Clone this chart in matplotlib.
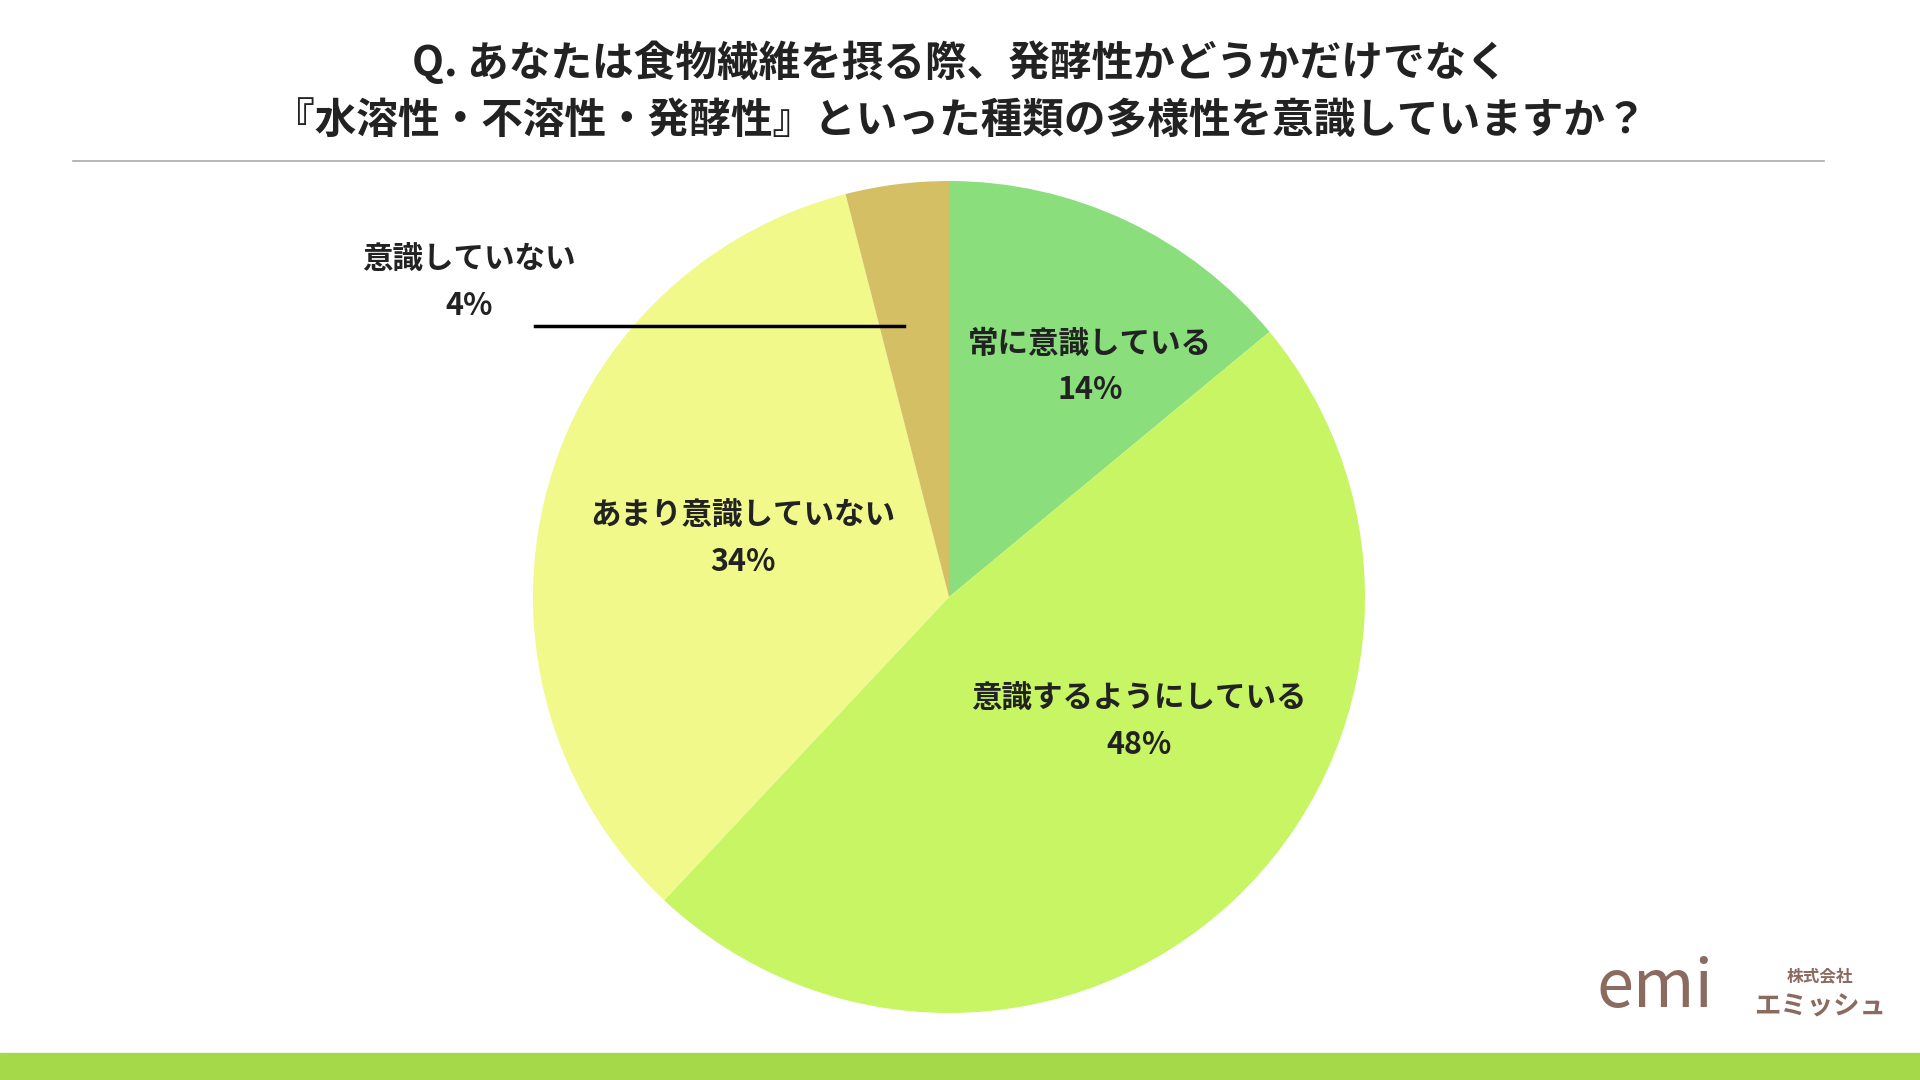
import matplotlib
matplotlib.use("Agg")
import matplotlib.pyplot as plt

plt.rcParams['font.family'] = ['Noto Sans CJK JP', 'DejaVu Sans']

title = "Q. あなたは食物繊維を摂る際、発酵性かどうかだけでなく\n『水溶性・不溶性・発酵性』といった種類の多様性を意識していますか？"
categories = ["常に意識している", "意識するようにしている", "あまり意識していない", "意識していない"]
values = [14, 48, 34, 4]
colors = ["#8ade7c", "#c8f564", "#f0f98a", "#d4bf65"]
# label positions in pixels (figure 1920x1080)
label_pos = [(1090, 713), (1139, 358), (743, 541), (469, 797)]

W, H = 1920, 1080
fig = plt.figure(figsize=(W / 100, H / 100), dpi=100)
ax = fig.add_axes([0, 0, 1, 1])

cx, cy, r = 949, 483, 416
ax.pie(values, colors=colors, startangle=90, counterclock=False,
       center=(cx, cy), radius=r, frame=True)
ax.set_xlim(0, W)
ax.set_ylim(0, H)
ax.set_aspect('equal')
ax.axis('off')

for cat, v, (x, y) in zip(categories, values, label_pos):
    ax.text(x, y, f"{cat}\n{v}%", ha='center', va='center', fontsize=22,
            fontweight='bold', color='#222222', linespacing=1.55)

# leader line for the small slice
ax.plot([535, 904], [754, 754], color='black', lw=2.5)

fig.text(0.5, 0.915, title, ha='center', va='center', fontsize=30,
         fontweight='bold', color='#222222', linespacing=1.45)
fig.add_artist(plt.Line2D([0.038, 0.95], [0.851, 0.851], color='#aaaaaa', lw=1.2))
fig.add_artist(plt.Rectangle((0, 0), 1, 0.025, color='#a6d94a'))

# logo
fig.text(0.862, 0.085, "emi", ha='center', va='center', fontsize=48,
         color='#8b6a5f', style='italic')
fig.text(0.948, 0.096, "株式会社", ha='center', va='center', fontsize=12,
         fontweight='bold', color='#8b6a5f')
fig.text(0.948, 0.068, "エミッシュ", ha='center', va='center', fontsize=19,
         fontweight='bold', color='#8b6a5f')

fig.savefig("out.png", dpi=100, facecolor='white')
